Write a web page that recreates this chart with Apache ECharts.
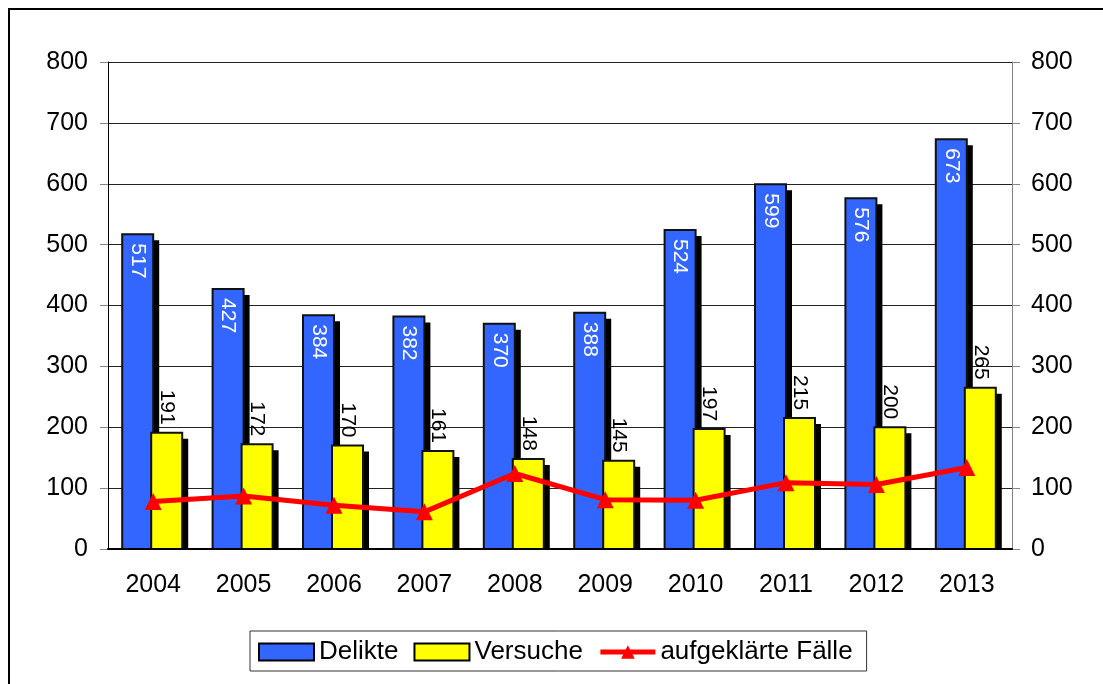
<!DOCTYPE html>
<html>
<head>
<meta charset="utf-8">
<style>
  html, body { margin: 0; padding: 0; background: #fff; }
  #main { width: 1103px; height: 684px; }
</style>
<script src="https://cdn.jsdelivr.net/npm/echarts@6/dist/echarts.min.js"></script>
</head>
<body>
<div id="main"></div>
<script>
// Daten
var years = ['2004', '2005', '2006', '2007', '2008', '2009', '2010', '2011', '2012', '2013'];
var delikte = [517, 427, 384, 382, 370, 388, 524, 599, 576, 673];
var versuche = [191, 172, 170, 161, 148, 145, 197, 215, 200, 265];
var aufgeklaert = [78, 87, 72, 61, 124, 81, 80, 109, 106, 134];
var yTicks = [0, 100, 200, 300, 400, 500, 600, 700, 800];

var font = '"Liberation Sans", Arial, sans-serif';
var myChart = echarts.init(document.getElementById('main'));

// Säule mit Schatten (rechts unten) und senkrechter Beschriftung
function barRenderer(color, side, labelColor, labelInside) {
  return function (params, api) {
    var idx = api.value(0);
    var top = api.coord([idx, api.value(1)]);
    var base = api.coord([idx, 0]);
    var w = Math.round(api.size([1, 0])[0] * 0.343);
    var x = side < 0 ? top[0] - w : top[0] - 2;
    var y = top[1];
    var h = base[1] - y;
    var label = labelInside
      ? { type: 'text', x: x + w / 2, y: y + 9, rotation: -Math.PI / 2,
          style: { text: String(api.value(1)), fill: labelColor, font: '21px ' + font, align: 'left', verticalAlign: 'middle' } }
      : { type: 'text', x: x + w / 2, y: y - 8, rotation: -Math.PI / 2,
          style: { text: String(api.value(1)), fill: labelColor, font: '21px ' + font, align: 'right', verticalAlign: 'middle' } };
    return {
      type: 'group',
      children: [
        { type: 'rect', shape: { x: x + 6, y: y + 6, width: w, height: Math.max(h - 6, 0) }, style: { fill: '#000' } },
        { type: 'rect', shape: { x: x, y: y, width: w, height: h }, style: { fill: color, stroke: '#111', lineWidth: 2 } },
        label
      ]
    };
  };
}

function pairs(arr) {
  return arr.map(function (v, i) { return [i, v]; });
}

var option = {
  backgroundColor: '#fff',
  animation: false,
  textStyle: { fontFamily: font },
  grid: { left: 108, right: 91, top: 62, bottom: 135 },
  legend: {
    left: 250,
    top: 631,
    padding: [8, 14, 6, 8],
    borderColor: '#333',
    borderWidth: 1,
    itemWidth: 55,
    itemHeight: 17,
    itemGap: 15,
    textStyle: { fontSize: 26, color: '#000', fontFamily: font },
    data: [
      { name: 'Delikte', icon: 'rect', itemStyle: { color: '#3366ff', borderColor: '#000', borderWidth: 2 } },
      { name: 'Versuche', icon: 'rect', itemStyle: { color: '#ffff00', borderColor: '#000', borderWidth: 2 } },
      { name: 'aufgeklärte Fälle', lineStyle: { width: 5, color: '#ff0000' } }
    ]
  },
  xAxis: {
    type: 'category',
    data: years,
    z: 10,
    axisLine: { lineStyle: { color: '#000', width: 2 } },
    axisTick: { length: 8, lineStyle: { color: '#666' } },
    axisLabel: { fontSize: 25, color: '#000', margin: 24 }
  },
  yAxis: [{
    type: 'value',
    min: yTicks[0],
    max: yTicks[yTicks.length - 1],
    interval: 100,
    axisLine: { show: true, lineStyle: { color: '#000' } },
    axisTick: { show: true, length: 8, lineStyle: { color: '#888' } },
    axisLabel: { fontSize: 25, color: '#000', margin: 20 },
    splitLine: { lineStyle: { color: '#222' } }
  }, {
    type: 'value',
    min: yTicks[0],
    max: yTicks[yTicks.length - 1],
    interval: 100,
    axisLine: { show: true, lineStyle: { color: '#808080' } },
    axisTick: { show: true, length: 8, lineStyle: { color: '#888' } },
    axisLabel: { fontSize: 25, color: '#000', margin: 19 },
    splitLine: { show: false }
  }],
  graphic: [
    // äußerer Rahmen
    { type: 'polyline', z: 20, shape: { points: [[9, 684], [9, 9], [1103, 9]] }, style: { stroke: '#000', lineWidth: 2, fill: null } }
  ],
  series: [{
    name: 'Delikte',
    type: 'custom',
    data: pairs(delikte),
    encode: { x: 0, y: 1 },
    itemStyle: { color: '#3366ff' },
    renderItem: barRenderer('#3366ff', -1, '#fff', true)
  }, {
    name: 'Versuche',
    type: 'custom',
    data: pairs(versuche),
    encode: { x: 0, y: 1 },
    itemStyle: { color: '#ffff00' },
    renderItem: barRenderer('#ffff00', 1, '#000', false)
  }, {
    name: 'aufgeklärte Fälle',
    type: 'line',
    data: aufgeklaert,
    z: 5,
    symbol: 'triangle',
    symbolSize: 17,
    itemStyle: { color: '#ff0000' },
    lineStyle: { color: '#ff0000', width: 5 }
  }]
};

myChart.setOption(option);
</script>
</body>
</html>
